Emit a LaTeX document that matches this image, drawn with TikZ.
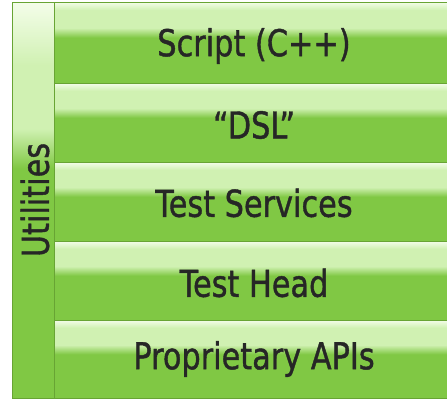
\documentclass[tikz,border=0pt]{standalone}
\usepackage{fontspec}
\usepackage{graphicx}
\newfontfamily\diafont[FakeBold=1.2]{DejaVu Sans}
\definecolor{gmid}{RGB}{128,200,68}
\definecolor{glight}{RGB}{208,241,178}
\definecolor{gwhite}{RGB}{244,253,234}
\definecolor{gborder}{RGB}{104,164,52}
\definecolor{txt}{RGB}{38,38,38}
\newcommand{\narrowtxt}[1]{\scalebox{0.82}[1]{#1}}
\pgfdeclareverticalshading{rowshade}{100bp}{color(0bp)=(gmid); color(25bp)=(gmid); color(53bp)=(gmid); color(59bp)=(glight); color(70bp)=(glight); color(75bp)=(gwhite); color(100bp)=(gwhite)}
\pgfdeclareverticalshading{colshade}{100bp}{color(0bp)=(gmid); color(25bp)=(gmid); color(54bp)=(gmid); color(59bp)=(glight); color(67bp)=(glight); color(75bp)=(gwhite); color(100bp)=(gwhite)}
\tikzset{
  rowbox/.style={shading=rowshade, draw=gborder, line width=1pt},
  colbox/.style={shading=colshade, draw=gborder, line width=1pt},
  lbl/.style={font=\diafont\fontsize{37}{40}\selectfont, text=txt, inner sep=0pt}
}
\begin{document}
\begin{tikzpicture}[x=1pt,y=-1pt]
\useasboundingbox (0,0) rectangle (447,399);
\shade[colbox] (12,2) rectangle (54.5,398);
\shade[rowbox] (54.5,2) rectangle (452,83);
\shade[rowbox] (54.5,83) rectangle (452,162);
\shade[rowbox] (54.5,162) rectangle (452,241);
\shade[rowbox] (54.5,241) rectangle (452,320);
\shade[rowbox] (54.5,320) rectangle (452,398);
\node[lbl] (script) at (254,46) {\narrowtxt{Script (C++)}};
\node[lbl] (dsl) at (254,125) {\narrowtxt{“DSL”}};
\node[lbl] (services) at (254,203) {\narrowtxt{Test Services}};
\node[lbl] (head) at (254,283) {\narrowtxt{Test Head}};
\node[lbl] (apis) at (254,359) {\narrowtxt{Proprietary APIs}};
\node[lbl, rotate=90] (util) at (35,200) {\narrowtxt{Utilities}};
\end{tikzpicture}
\end{document}
